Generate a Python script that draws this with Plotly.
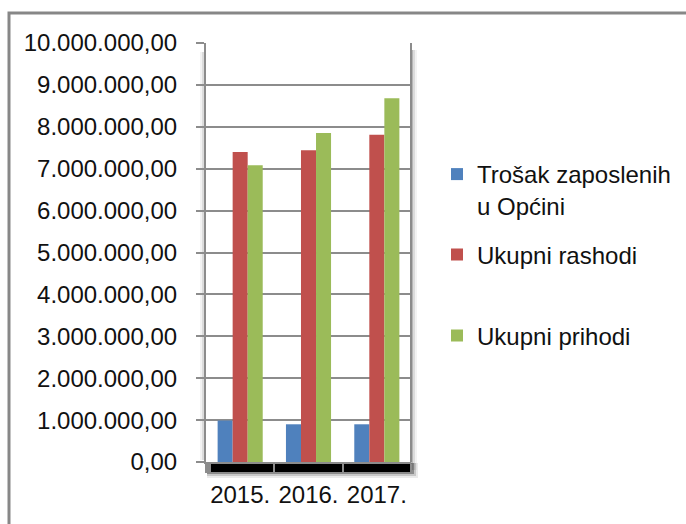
import plotly.graph_objects as go

# ---- data ----
years = ["2015.", "2016.", "2017."]
trosak_zaposlenih = [990000, 900000, 900000]
ukupni_rashodi = [7400000, 7440000, 7810000]
ukupni_prihodi = [7080000, 7850000, 8680000]
series_names = ["Trošak zaposlenih<br>u Općini", "Ukupni rashodi", "Ukupni prihodi"]
y_tickvals = [0, 1000000, 2000000, 3000000, 4000000, 5000000,
              6000000, 7000000, 8000000, 9000000, 10000000]
y_ticktext = ["0,00", "1.000.000,00", "2.000.000,00", "3.000.000,00",
              "4.000.000,00", "5.000.000,00", "6.000.000,00", "7.000.000,00",
              "8.000.000,00", "9.000.000,00", "10.000.000,00"]

# ---- layout geometry (pixels) ----
W, H = 686, 524
PL, PR, PT, PB = 206, 411, 43, 462
FONT = "Liberation Sans, Arial, sans-serif"
FS = 24
GRID = "#8c8c8c"

def px(x):
    return (x - PL) / (PR - PL)

def py(y):
    return (PB - y) / (PB - PT)

fig = go.Figure()
colors = ["#4F81BD", "#C0504D", "#9BBB59"]
values = [trosak_zaposlenih, ukupni_rashodi, ukupni_prihodi]
legends = ["legend", "legend2", "legend3"]
for name, vals, col, lg in zip(series_names, values, colors, legends):
    fig.add_trace(go.Bar(x=years, y=vals, name=name, marker_color=col,
                         marker_line_width=0, legend=lg, showlegend=True))

shapes = []
# outer frame
shapes.append(dict(type="rect", xref="paper", yref="paper",
                   x0=px(9), x1=px(720), y0=py(560), y1=py(13),
                   line=dict(color="#878787", width=3), layer="below"))
# floor with blurred shadow
for d, op in [(6, 0.08), (4, 0.15), (2, 0.3)]:
    shapes.append(dict(type="rect", xref="paper", yref="paper",
                       x0=px(207), x1=px(412 + d), y0=py(472 + d), y1=py(463),
                       fillcolor="black", opacity=op, line_width=0, layer="below"))
shapes.append(dict(type="rect", xref="paper", yref="paper",
                   x0=px(211), x1=px(411), y0=py(472), y1=py(463),
                   fillcolor="black", line_width=0, layer="below"))
# right wall with shadow
for d, op in [(6, 0.08), (4, 0.15), (2, 0.3)]:
    shapes.append(dict(type="rect", xref="paper", yref="paper",
                       x0=px(411), x1=px(411 + d), y0=py(470), y1=py(50),
                       fillcolor="#606060", opacity=op, line_width=0, layer="below"))
shapes.append(dict(type="line", xref="paper", yref="paper",
                   x0=px(411), x1=px(411), y0=py(462), y1=py(43),
                   line=dict(color=GRID, width=2)))
# left wall shadow
for d, op in [(5, 0.08), (3, 0.15)]:
    shapes.append(dict(type="rect", xref="paper", yref="paper",
                       x0=px(205 - d), x1=px(205), y0=py(460), y1=py(52),
                       fillcolor="#606060", opacity=op, line_width=0, layer="below"))

legend_common = dict(xref="container", yref="container", x=437 / W,
                     xanchor="left", yanchor="middle",
                     bgcolor="rgba(0,0,0,0)", font=dict(family=FONT, size=FS))

fig.update_layout(
    width=W, height=H, showlegend=True,
    margin=dict(l=PL, r=W - PR, t=PT, b=H - PB, pad=0, autoexpand=False),
    paper_bgcolor="white", plot_bgcolor="white",
    barmode="group", bargap=0.34, bargroupgap=0,
    font=dict(family=FONT, size=FS, color="#111111"),
    shapes=shapes,
    xaxis=dict(showgrid=False, showline=True, linecolor=GRID, linewidth=2,
               ticks="outside", tickson="boundaries", ticklen=9,
               tickcolor=GRID, tickwidth=2, ticklabelstandoff=10,
               tickangle=0, automargin=False,
               tickfont=dict(family=FONT, size=FS)),
    yaxis=dict(range=[0, 10000000], tickvals=y_tickvals, ticktext=y_ticktext,
               showgrid=True, gridcolor=GRID, gridwidth=2,
               showline=True, linecolor=GRID, linewidth=2,
               ticks="outside", ticklen=8, tickcolor=GRID, tickwidth=2,
               ticklabelstandoff=14, zeroline=False, automargin=False,
               tickfont=dict(family=FONT, size=FS)),
    legend=dict(legend_common, y=1 - 190 / H, valign="top"),
    legend2=dict(legend_common, y=1 - 255 / H),
    legend3=dict(legend_common, y=1 - 336 / H),
)

fig.write_html("out.html", config={"displayModeBar": False},
               post_script="document.body.style.margin='0';")
